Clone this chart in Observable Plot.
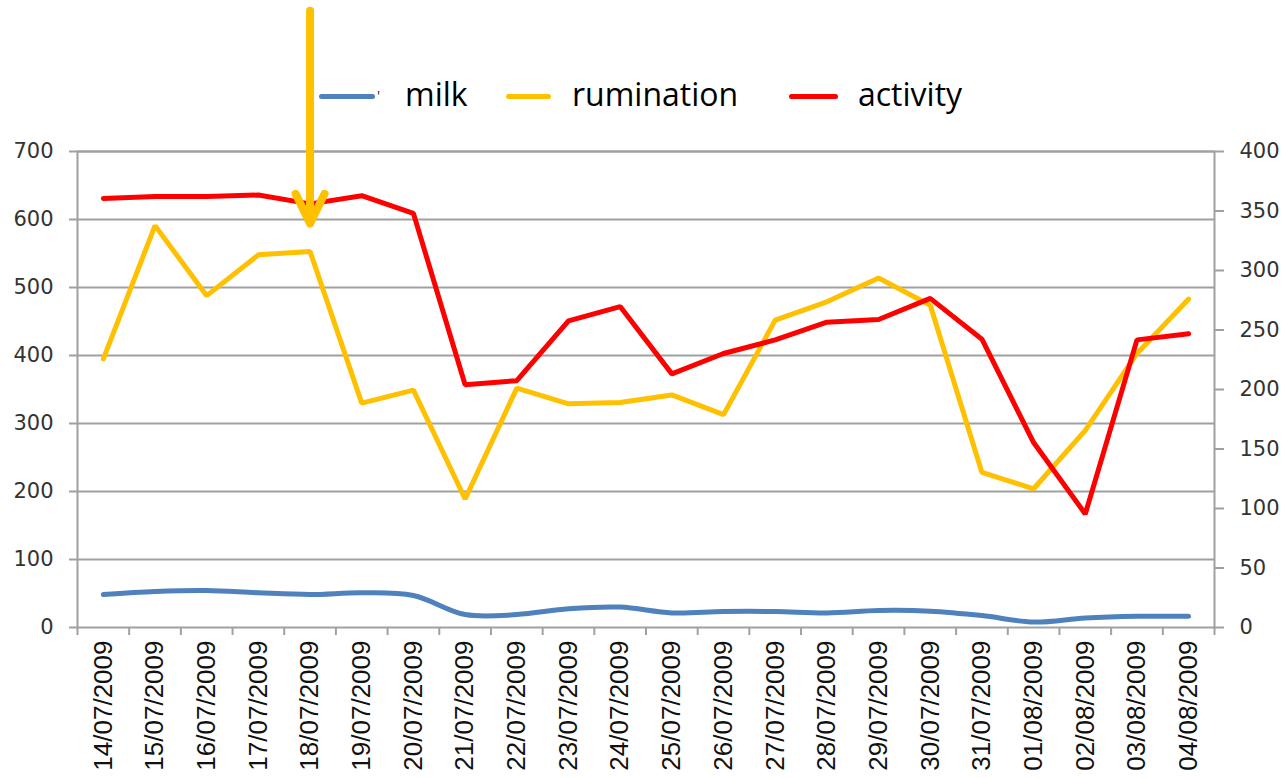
<!DOCTYPE html>
<html>
<head>
<meta charset="utf-8">
<script src="https://cdn.jsdelivr.net/npm/d3@7"></script>
<script src="https://cdn.jsdelivr.net/npm/@observablehq/plot@0.6"></script>
<style>
  html, body { margin: 0; padding: 0; background: #fff; }
  #wrap { position: relative; width: 1285px; height: 778px; overflow: hidden; }
  .lg-line { position: absolute; height: 5px; border-radius: 3px; }
  .lg-text { position: absolute; font-family: "Open Sans", sans-serif; font-size: 32px; color: #000; line-height: 1; }
  .lg-tick { position: absolute; font-family: "Open Sans", sans-serif; font-size: 14px; color: #222; line-height: 1; }
</style>
</head>
<body>
<div id="wrap"></div>
<script>
const dates = ["14/07/2009","15/07/2009","16/07/2009","17/07/2009","18/07/2009","19/07/2009","20/07/2009",
  "21/07/2009","22/07/2009","23/07/2009","24/07/2009","25/07/2009","26/07/2009","27/07/2009","28/07/2009",
  "29/07/2009","30/07/2009","31/07/2009","01/08/2009","02/08/2009","03/08/2009","04/08/2009"];
const milk = [48.5, 53, 54.5, 51, 48.5, 51, 47, 19, 19, 27.5, 30, 21.5, 23.5, 23.5, 21.5, 25, 24, 17.5, 8, 14, 16.5, 16.5];
const rumination = [395, 591, 488, 548, 553, 330, 349, 189, 352, 329, 331, 342, 313, 452, 479, 514, 474, 228, 204, 290, 403, 483];
const activity = [631, 634, 634, 636, 623, 635, 609, 357, 363, 451, 472, 373, 403, 423, 449, 453, 484, 424, 272, 167, 423, 432];
const leftTicks = [0, 100, 200, 300, 400, 500, 600, 700];
const rightTicks = [0, 50, 100, 150, 200, 250, 300, 350, 400];
const seriesNames = ["milk", "rumination", "activity"];
const seriesColors = ["#4F81BD", "#FFC000", "#FF0000"];
// annotation arrow: category index, from value, to value
const arrowInfo = [{i: 4, from: 907, to: 594}];

const rows = (arr) => arr.map((v, i) => ({i, v}));
const grid = "#a0a0a0";

const plot = Plot.plot({
  width: 1285,
  height: 778,
  marginLeft: 77,
  marginRight: 71,
  marginTop: 151,
  marginBottom: 151,
  x: {type: "linear", domain: [-0.5, dates.length - 0.5], axis: null},
  y: {domain: [0, 700], axis: null},
  marks: [
    Plot.gridY(leftTicks.filter(d => d > 0), {stroke: grid, strokeOpacity: 1, strokeWidth: 2}),
    Plot.frame({stroke: grid, strokeWidth: 2}),
    Plot.axisY(leftTicks, {anchor: "left", tickSize: 8, tickPadding: 16, stroke: grid, strokeWidth: 2,
      fill: "#333", fontSize: 21, fontFamily: "DejaVu Sans", label: null}),
    Plot.axisY(rightTicks.map(v => v * 700 / 400), {anchor: "right", tickSize: 9, tickPadding: 16, stroke: grid, strokeWidth: 2,
      tickFormat: d => String(Math.round(d * 400 / 700)), fill: "#333", fontSize: 21, fontFamily: "DejaVu Sans", label: null}),
    Plot.axisX(d3.range(dates.length + 1).map(i => i - 0.5), {anchor: "bottom", tickSize: 8, stroke: grid, strokeWidth: 2,
      tickFormat: () => "", label: null}),
    Plot.axisX(d3.range(dates.length), {anchor: "bottom", tickSize: 0, tickPadding: 13, tickRotate: -90,
      tickFormat: i => dates[i], fill: "#111", fontSize: 26, fontFamily: "Liberation Sans", label: null}),
    Plot.line(rows(milk), {x: "i", y: "v", stroke: seriesColors[0], strokeWidth: 5, curve: "catmull-rom"}),
    Plot.line(rows(rumination), {x: "i", y: "v", stroke: seriesColors[1], strokeWidth: 5, strokeLinejoin: "miter"}),
    Plot.line(rows(activity), {x: "i", y: "v", stroke: seriesColors[2], strokeWidth: 5, strokeLinejoin: "miter"}),
    Plot.arrow(arrowInfo, {x1: "i", x2: "i", y1: "from", y2: "to", stroke: seriesColors[1], strokeWidth: 8,
      headLength: 6.2, headAngle: 52, strokeLinecap: "round", strokeLinejoin: "round"})
  ]
});

const wrap = document.getElementById("wrap");
wrap.appendChild(plot);

// legend (HTML, above the plot area)
const legendPos = [
  {line: [319, 375], text: 405},
  {line: [506, 551], text: 572},
  {line: [789, 838], text: 858}
];
seriesNames.forEach((name, k) => {
  const p = legendPos[k];
  const ln = document.createElement("div");
  ln.className = "lg-line";
  ln.style.left = p.line[0] + "px";
  ln.style.width = (p.line[1] - p.line[0]) + "px";
  ln.style.top = "94px";
  ln.style.background = seriesColors[k];
  wrap.appendChild(ln);
  const tx = document.createElement("div");
  tx.className = "lg-text";
  tx.style.left = p.text + "px";
  tx.style.top = "78px";
  tx.textContent = name;
  wrap.appendChild(tx);
});
const mark = document.createElement("div");
mark.className = "lg-tick";
mark.style.left = "377px";
mark.style.top = "89px";
mark.textContent = "'";
wrap.appendChild(mark);
</script>
</body>
</html>
